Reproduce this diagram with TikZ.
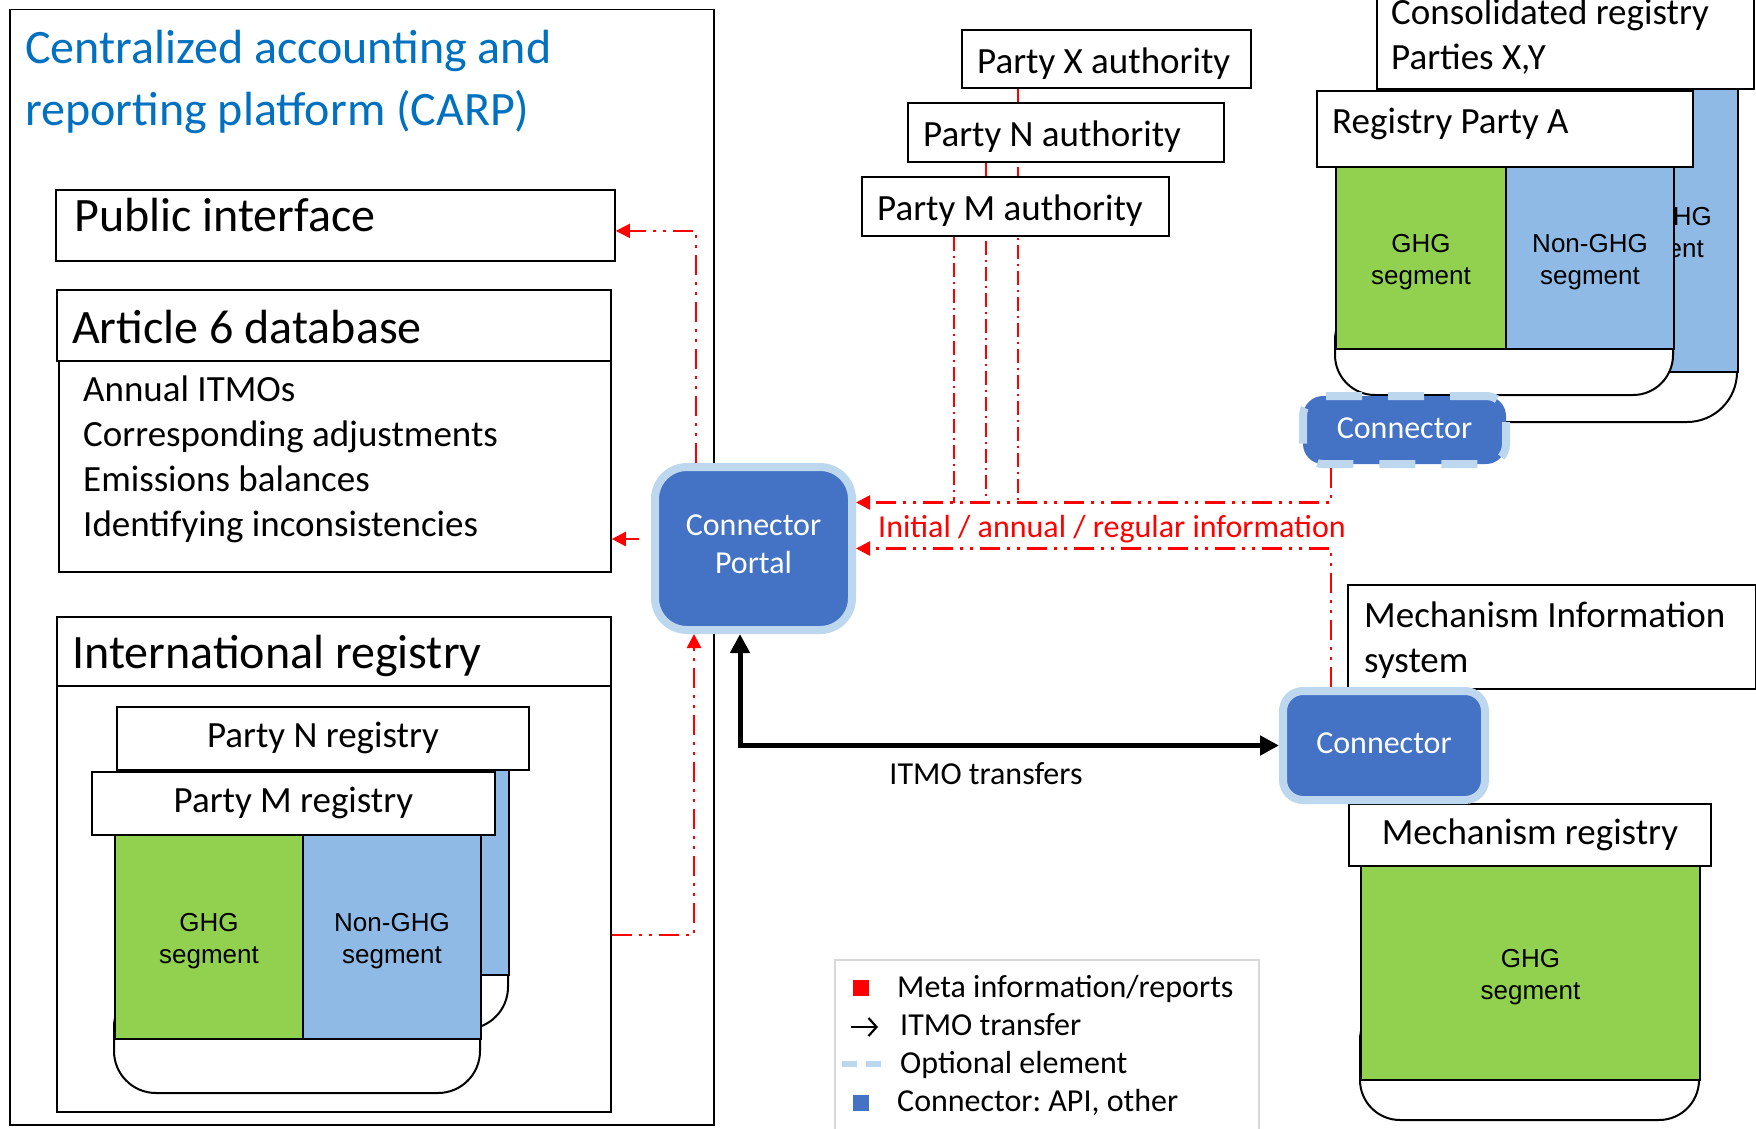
\documentclass[tikz,border=0pt]{standalone}
\usepackage{fontspec}
\setmainfont{Carlito}
\newfontfamily\arialfont{Liberation Sans}
\usepackage{tikz}
\usetikzlibrary{arrows.meta,backgrounds}
\frenchspacing

\definecolor{carpblue}{RGB}{0,112,192}
\definecolor{connblue}{RGB}{68,114,196}
\definecolor{connedge}{RGB}{189,215,238}
\definecolor{ghggreen}{RGB}{146,208,80}
\definecolor{nonghgblue}{RGB}{142,186,229}
\definecolor{infored}{RGB}{255,0,0}
\definecolor{legendgray}{RGB}{217,217,217}

\newcommand{\fsBig}{\fontsize{48}{62}\selectfont}
\newcommand{\fsMid}{\fontsize{37}{45}\selectfont}
\newcommand{\fsSmall}{\fontsize{32}{38}\selectfont}
\newcommand{\fsSeg}{\arialfont\fontsize{26}{32}\selectfont}

\begin{document}
\begin{tikzpicture}[x=1pt, y=-1pt,
    box/.style={draw, line width=1.8pt, fill=white, anchor=north west, inner sep=0pt},
    txt/.style={anchor=base west, inner sep=0pt},
    txtblock/.style={anchor=north west, inner sep=0pt, align=left},
    seg/.style={draw, line width=2pt, anchor=north west, inner sep=0pt,
        label={[font=\fsSeg, align=center, yshift=-4.5pt]center:#1}},
    cup/.style={draw, line width=2pt, fill=white},
    conn/.style={draw=connedge, line width=8pt, fill=connblue, rounded corners=20pt, inner sep=0pt},
    conntext/.style={text=white, font=\fsSmall, align=center},
    info/.style={infored, line width=2.6pt, dash pattern=on 20pt off 7pt on 3pt off 7pt on 3pt off 7pt, -{Triangle[length=14pt,width=14pt]}},
    infothin/.style={infored, line width=1.3pt, dash pattern=on 14pt off 5pt on 2pt off 5pt},
    itmo/.style={line width=5pt, {Triangle[length=19pt,width=19pt]}-{Triangle[length=19pt,width=19pt]}}]

    \useasboundingbox (0,0) rectangle (1756,1129);

    % CARP frame
    \node[box, line width=1.5pt, minimum width=704pt, minimum height=1115pt] (carp) at (9,9) {};
    \node[txtblock, text=carpblue, font=\fsBig] (carptitle) at (25,29.5) {Centralized accounting and\\reporting platform (CARP)};

    % Public interface
    \node[box, minimum width=559pt, minimum height=71pt] (pubif) at (55,189) {};
    \node[txt, font=\fsBig] (pubiftext) at (74,231) {Public interface};

    % Article 6 database
    \node[box, minimum width=554pt, minimum height=71pt] (art6head) at (56,289) {};
    \node[txt, font=\fsBig] (art6headtext) at (72,343) {Article 6 database};
    \node[box, minimum width=552pt, minimum height=211pt] (art6) at (58,360) {};
    \node[txtblock, font=\fsMid] (art6list) at (83,376) {Annual ITMOs\\Corresponding adjustments\\Emissions balances\\Identifying inconsistencies};

    % International registry
    \node[box, minimum width=554pt, minimum height=69pt] (intreghead) at (56,616) {};
    \node[txt, font=\fsBig] (intregheadtext) at (72,668) {International registry};
    \node[box, minimum width=554pt, minimum height=426pt] (intreg) at (56,685) {};

    % Party N registry (behind)
    \draw[cup, rounded corners=42pt] (142,920) rectangle (508,1029);
    \node[seg={GHG\\segment}, fill=ghggreen, minimum width=188pt, minimum height=205pt] (nghg) at (142,769) {};
    \node[seg={Non-GHG\\segment}, fill=nonghgblue, minimum width=178pt, minimum height=205pt] (nnonghg) at (330,769) {};
    \node[box, minimum width=412pt, minimum height=63pt, font=\fsMid] (nreg) at (116,706) {Party N registry};

    % Party M registry (front)
    \draw[cup, rounded corners=42pt] (114,985) rectangle (480,1093);
    \node[seg={GHG\\segment}, fill=ghggreen, minimum width=188pt, minimum height=204pt] (mghg) at (114,834) {};
    \node[seg={Non-GHG\\segment}, fill=nonghgblue, minimum width=178pt, minimum height=204pt] (mnonghg) at (302,834) {};
    \node[box, minimum width=403pt, minimum height=63pt, font=\fsMid] (mreg) at (91,771) {Party M registry};

    % Party authorities
    \node[box, minimum width=289pt, minimum height=58pt] (xauth) at (961,29) {};
    \node[txt, font=\fsMid] (xauthtext) at (977,73.5) {Party X authority};
    \node[box, minimum width=316pt, minimum height=59pt] (nauth) at (907,102) {};
    \node[txt, font=\fsMid] (nauthtext) at (923,146.5) {Party N authority};
    \node[box, minimum width=307pt, minimum height=59pt] (mauth) at (861,176) {};
    \node[txt, font=\fsMid] (mauthtext) at (877,220.5) {Party M authority};

    % Registry Party A, consolidated registry behind
    \draw[cup, rounded corners=50pt] (1401,300) rectangle (1737,422);
    \node[seg={GHG\\segment}, fill=ghggreen, minimum width=168pt, minimum height=283pt] (cghg) at (1401,88) {};
    \node[seg={Non-GHG\\segment}, fill=nonghgblue, minimum width=168pt, minimum height=283pt] (cnonghg) at (1569,88) {};
    \node[box, minimum width=377pt, minimum height=100pt] (consreg) at (1376,-12) {};
    \node[txtblock, font=\fsMid] (consregtext) at (1391,-1.5) {Consolidated registry\\Parties X,Y};
    \draw[cup, rounded corners=40pt] (1335,300) rectangle (1673,395);
    \node[seg={GHG\\segment}, fill=ghggreen, minimum width=170pt, minimum height=182pt] (aghg) at (1335,166) {};
    \node[seg={Non-GHG\\segment}, fill=nonghgblue, minimum width=168pt, minimum height=182pt] (anonghg) at (1505,166) {};
    \node[box, minimum width=376pt, minimum height=76pt] (rega) at (1316,90) {};
    \node[txt, font=\fsMid] (regatext) at (1332,134) {Registry Party A};

    % Optional connector
    \node[conn, dash pattern=on 36pt off 26pt, minimum width=203pt, minimum height=68pt,
        label={[conntext, yshift=2pt]center:Connector}] (optconn) at (1404.5,430) {};

    % Mechanism information system and registry
    \node[box, minimum width=408pt, minimum height=104pt] (mis) at (1347,584) {};
    \node[txtblock, font=\fsMid] (mistext) at (1364,602) {Mechanism Information\\system};
    \draw[cup, rounded corners=40pt] (1360,1000) rectangle (1699,1120);
    \node[seg={GHG\\segment}, fill=ghggreen, minimum width=339pt, minimum height=214pt] (mechghg) at (1360,865) {};
    \node[box, minimum width=362pt, minimum height=62pt, font=\fsMid] (mechreg) at (1348,803) {Mechanism registry};
    \node[conn, minimum width=202pt, minimum height=109pt,
        label={[conntext, yshift=2pt]center:Connector}] (mechconn) at (1384,745.5) {};

    % Connector portal
    \node[conn, rounded corners=32pt, minimum width=197pt, minimum height=163pt,
        label={[conntext, yshift=4.5pt]center:Connector\\Portal}] (portal) at (753.5,548.5) {};

    % Information flows
    \coordinate (infoline) at ([yshift=46pt]portal.east);
    \coordinate (mline) at ([xshift=-61.5pt]mauth.south);
    \coordinate (nline) at ([xshift=-80pt]nauth.south);
    \coordinate (xline) at ([xshift=-88.5pt]xauth.south);
    \begin{pgfonlayer}{background}
        \draw[infothin] (mline) -- (mline |- infoline);
        \draw[infothin] (nline) -- (nline |- infoline);
        \draw[infothin] (xline) -- (xline |- infoline);
    \end{pgfonlayer}
    \draw[info] ([xshift=-73.5pt]optconn.south) |- (infoline);
    \draw[info] ([xshift=-53pt]mechconn.north) |- (portal.east);
    \node[text=infored, font=\fsSmall] (infolabel) at (1112,529) {Initial / annual / regular information};
    \draw[info, line width=1.5pt] ([xshift=-57.5pt]portal.north) |- ([yshift=-5.5pt]pubif.east);
    \coordinate (art6arrow) at ([yshift=9.5pt]portal.west);
    \draw[info, shorten <=12pt] (art6arrow) -- (art6arrow -| art6.east);
    \draw[info] ([yshift=-36pt]intreg.east) -| ([xshift=-59.5pt]portal.south);

    % ITMO transfers
    \draw[itmo] ([xshift=-13.5pt]portal.south) |- (mechconn.west);
    \node[font=\fsSmall] (itmolabel) at (986,774) {ITMO transfers};

    % Legend
    \node[box, draw=legendgray, line width=2pt, minimum width=424pt, minimum height=190pt] (legend) at (834,959) {};
    \node[fill=infored, minimum size=16pt, inner sep=0pt] (legmeta) at (861,988) {};
    \node[txt, font=\fsSmall] (legmetatext) at (897,997) {Meta information/reports};
    \coordinate (legarrowtail) at (851,1027);
    \coordinate (legarrowhead) at (878,1027);
    \draw[line width=2.2pt, -{Straight Barb[length=8pt,width=18pt]}] (legarrowtail) -- (legarrowhead);
    \node[txt, font=\fsSmall] (legitmotext) at (900,1035.5) {ITMO transfer};
    \coordinate (legdashA) at (842,1064);
    \coordinate (legdashB) at (881,1064);
    \draw[connedge, line width=6pt, dash pattern=on 15pt off 9pt] (legdashA) -- (legdashB);
    \node[txt, font=\fsSmall] (legopttext) at (900,1073.5) {Optional element};
    \node[fill=connblue, minimum size=16pt, inner sep=0pt] (legconn) at (861,1103) {};
    \node[txt, font=\fsSmall] (legconntext) at (897,1111.5) {Connector: API, other};
\end{tikzpicture}
\end{document}
